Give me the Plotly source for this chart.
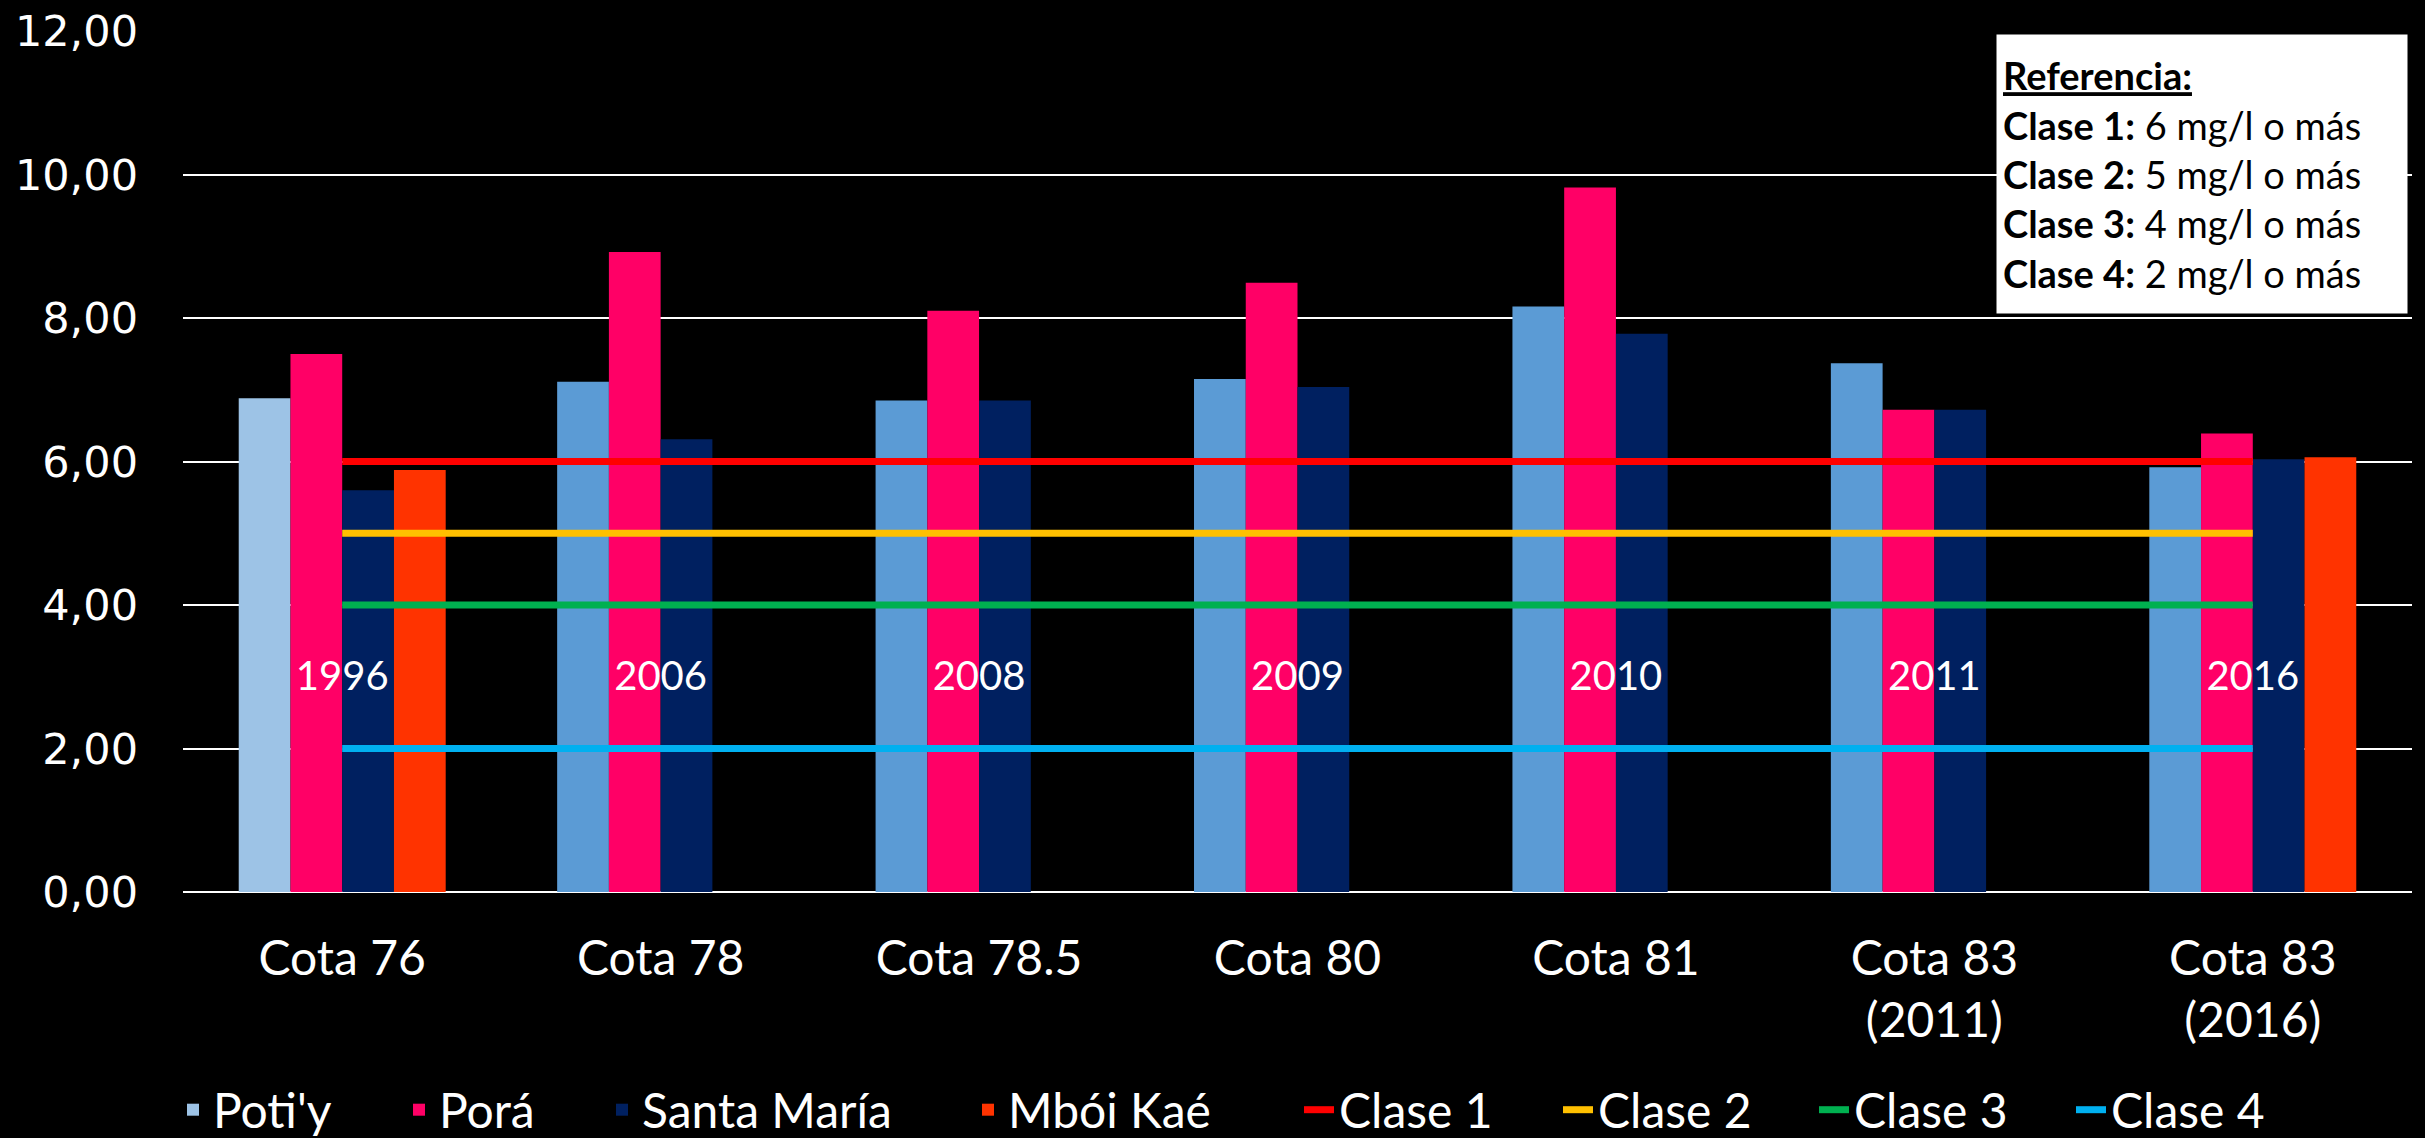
import plotly.graph_objects as go

categories = ["Cota 76", "Cota 78", "Cota 78.5", "Cota 80", "Cota 81", "Cota 83<br>(2011)", "Cota 83<br>(2016)"]
years = ["1996", "2006", "2008", "2009", "2010", "2011", "2016"]

potiy = [6.88, 7.11, 6.85, 7.15, 8.16, 7.37, 5.92]
pora = [7.50, 8.92, 8.10, 8.49, 9.82, 6.72, 6.39]
santa_maria = [5.60, 6.31, 6.85, 7.04, 7.78, 6.72, 6.03]
mboi_kae = [5.88, None, None, None, None, None, 6.06]

clase_names = ["Clase 1", "Clase 2", "Clase 3", "Clase 4"]
clase_values = [6, 5, 4, 2]
clase_colors = ["#FF0000", "#FFC000", "#00B050", "#00B0F0"]

year_label_y = 2.95

potiy_colors = ["#9DC3E6"] + ["#5B9BD5"] * (len(categories) - 1)

# legend entry text start positions (px, from left of page)
legend_text_x = [213, 439, 642, 1008, 1339, 1598, 1854, 2111]
W, H = 2425, 1138

fig = go.Figure()
bar_specs = [("Poti'y", potiy, potiy_colors), ("Porá", pora, "#FF0066"),
             ("Santa María", santa_maria, "#002060"), ("Mbói Kaé", mboi_kae, "#FF3300")]
legend_ids = ["legend"] + [f"legend{i}" for i in range(2, 9)]
for i, (name, vals, col) in enumerate(bar_specs):
    fig.add_trace(go.Bar(name=name, x=categories, y=vals, legend=legend_ids[i],
                         marker=dict(color=col, line=dict(width=0))))

for j, (name, val, col) in enumerate(zip(clase_names, clase_values, clase_colors)):
    fig.add_trace(go.Scatter(name=name, x=categories, y=[val] * len(categories), mode="lines",
                             legend=legend_ids[4 + j], line=dict(color=col, width=7)))

fig.add_trace(go.Scatter(x=categories, y=[year_label_y] * len(categories), mode="text", text=years,
                         textfont=dict(family="Lato, sans-serif", size=40, color="white"),
                         showlegend=False, hoverinfo="skip"))

fig.add_annotation(
    xref="paper", yref="paper", x=0.998, y=0.9965, xanchor="right", yanchor="top",
    text=("<b><u>Referencia:</u></b><br><b>Clase 1:</b> 6 mg/l o más<br><b>Clase 2:</b> 5 mg/l o más"
          "<br><b>Clase 3:</b> 4 mg/l o más<br><b>Clase 4:</b> 2 mg/l o más"),
    align="left", showarrow=False, bgcolor="white", width=398, height=266, borderpad=6,
    font=dict(family="Lato, sans-serif", size=38, color="black"),
)

legend_common = dict(orientation="h", xref="container", yref="container", xanchor="left",
                     yanchor="middle", y=1 - 1110 / H,
                     font=dict(family="Lato, sans-serif", size=48, color="white"),
                     bgcolor="rgba(0,0,0,0)", borderwidth=0)
legend_layout = {}
for lid, tx in zip(legend_ids, legend_text_x):
    legend_layout[lid] = dict(legend_common, x=(tx - 40) / W)

fig.update_layout(
    width=W, height=H,
    paper_bgcolor="black", plot_bgcolor="black",
    margin=dict(l=183, r=13, t=31, b=246, autoexpand=False),
    barmode="group", bargap=0.35, bargroupgap=0,
    separators=",.",
    showlegend=True,
    font=dict(color="white"),
    **legend_layout,
)
fig.update_yaxes(range=[0, 12], dtick=2, tickformat=".2f", showgrid=True, gridcolor="white", gridwidth=2,
                 zeroline=True, zerolinecolor="white", zerolinewidth=2, showline=False, automargin=False,
                 tickfont=dict(family="DejaVu Sans, sans-serif", size=43, color="white"),
                 ticklabelstandoff=44)
fig.update_xaxes(showgrid=False, showline=False, ticks="", automargin=False,
                 tickfont=dict(family="Lato, sans-serif", size=48, color="white"),
                 ticklabelstandoff=34)

fig.write_html("out.html", config={"displayModeBar": False},
               post_script="document.body.style.margin='0';document.body.style.background='black';")
